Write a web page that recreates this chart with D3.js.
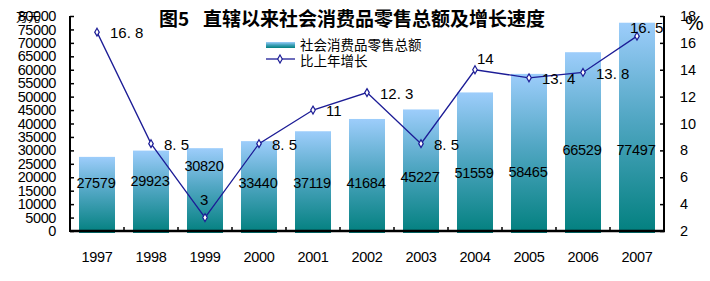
<!DOCTYPE html>
<html>
<head>
<meta charset="utf-8">
<script src="https://cdn.jsdelivr.net/npm/d3@7"></script>
<style>
  body { margin: 0; background: #fff; }
  svg { display: block; }
  text { font-family: "Liberation Sans", Arial, sans-serif; fill: #000; }
  .cjk { font-family: "Noto Sans CJK SC", sans-serif; }
</style>
</head>
<body>
<div id="chart"></div>
<script>
// data
const years = ["1997", "1998", "1999", "2000", "2001", "2002", "2003", "2004", "2005", "2006", "2007"];
const retailSales = [27579, 29923, 30820, 33440, 37119, 41684, 45227, 51559, 58465, 66529, 77497];
const growthRate = [16.8, 8.5, 3, 8.5, 11, 12.3, 8.5, 14, 13.4, 13.8, 16.5];
const leftTicks = d3.range(0, 80001, 5000);
const rightTicks = [2, 4, 6, 8, 10, 12, 14, 16, 18];

const width = 710, height = 281;
const plot = { left: 70, right: 664, top: 16, bottom: 231 };

const svg = d3.select("#chart").append("svg").attr("width", width).attr("height", height);

const x = d3.scaleBand().domain(years).range([plot.left, plot.right]).paddingInner(1 / 3).paddingOuter(1 / 6);
const yL = d3.scaleLinear().domain([0, 80000]).range([plot.bottom, plot.top]);
const yR = d3.scaleLinear().domain([2, 18]).range([plot.bottom, plot.top]);

// bar gradient
let defs = svg.append("defs");
let grad = defs.append("linearGradient").attr("id", "barGrad")
    .attr("x1", 0).attr("y1", 0).attr("x2", 0).attr("y2", 1);
grad.append("stop").attr("offset", "0%").attr("stop-color", "#9dcdfb");
grad.append("stop").attr("offset", "45%").attr("stop-color", "#52a7c4");
grad.append("stop").attr("offset", "100%").attr("stop-color", "#02807f");

let lgGrad = defs.append("linearGradient").attr("id", "legGrad")
    .attr("x1", 0).attr("y1", 0).attr("x2", 0).attr("y2", 1);
lgGrad.append("stop").attr("offset", "0%").attr("stop-color", "#9dcdfb");
lgGrad.append("stop").attr("offset", "50%").attr("stop-color", "#3ea0b8");
lgGrad.append("stop").attr("offset", "100%").attr("stop-color", "#02807f");

// bars
svg.append("g").selectAll("rect").data(retailSales).enter().append("rect")
    .attr("x", (d, i) => x(years[i]))
    .attr("y", d => yL(d))
    .attr("width", x.bandwidth())
    .attr("height", d => yL(0) - yL(d) + 2)
    .attr("fill", "url(#barGrad)");

// bar labels (placed by hand in the original, here in value units)
const labelAt = [17900, 18600, 24200, 17900, 17900, 17900, 20100, 21600, 22000, 30100, 30100];
svg.append("g").selectAll("text").data(retailSales).enter().append("text")
    .attr("x", (d, i) => x(years[i]) + x.bandwidth() / 2 - 1)
    .attr("y", (d, i) => yL(labelAt[i]))
    .attr("dy", "0.35em")
    .attr("text-anchor", "middle")
    .attr("font-size", "14.5px")
    .attr("letter-spacing", "-0.3px")
    .text(d => d);

// axes
let axisL = svg.append("g").attr("transform", `translate(${plot.left},0)`)
    .call(d3.axisRight(yL).tickValues(leftTicks).tickSize(4).tickFormat(""));
let axisR = svg.append("g").attr("transform", `translate(${plot.right},0)`)
    .call(d3.axisLeft(yR).tickValues(rightTicks).tickSize(4).tickFormat(""));
[axisL, axisR].forEach(a => {
    a.select(".domain").remove();
    a.selectAll("line").attr("stroke", "#000").attr("stroke-width", 1.5);
});

svg.append("line").attr("x1", plot.left).attr("x2", plot.left).attr("y1", plot.top).attr("y2", plot.bottom + 1)
    .attr("stroke", "#000").attr("stroke-width", 2);
svg.append("line").attr("x1", plot.right).attr("x2", plot.right).attr("y1", plot.top).attr("y2", plot.bottom + 1)
    .attr("stroke", "#000").attr("stroke-width", 2);
svg.append("line").attr("x1", plot.left).attr("x2", plot.right + 1).attr("y1", plot.bottom).attr("y2", plot.bottom)
    .attr("stroke", "#000").attr("stroke-width", 2.5);

// category separators on x axis
svg.append("g").selectAll("line").data(years.slice(1)).enter().append("line")
    .attr("x1", d => x(d) - x.step() * x.paddingInner() / 2)
    .attr("x2", d => x(d) - x.step() * x.paddingInner() / 2)
    .attr("y1", plot.bottom).attr("y2", plot.bottom - 4)
    .attr("stroke", "#000").attr("stroke-width", 1.5);

// tick labels
svg.append("g").selectAll("text").data(leftTicks).enter().append("text")
    .attr("x", 56).attr("y", d => yL(d)).attr("dy", "0.35em")
    .attr("text-anchor", "end").attr("font-size", "14.5px").attr("letter-spacing", "-0.4px")
    .text(d => d);
// unit label sits on top of the highest tick label, as in the original
svg.append("text").attr("class", "cjk").attr("x", 16).attr("y", 22)
    .attr("font-size", "12px").text("万元");

svg.append("g").selectAll("text").data(rightTicks).enter().append("text")
    .attr("x", 680).attr("y", d => yR(d)).attr("dy", "0.35em")
    .attr("font-size", "14.5px")
    .text(d => d);
svg.append("text").attr("x", 685).attr("y", 30).attr("font-size", "21px").text("%");

svg.append("g").selectAll("text").data(years).enter().append("text")
    .attr("x", d => x(d) + x.bandwidth() / 2).attr("y", 257).attr("dy", "0.35em")
    .attr("text-anchor", "middle").attr("font-size", "14.5px").attr("letter-spacing", "-0.3px")
    .text(d => d);

// growth line
const cx = (d, i) => x(years[i]) + x.bandwidth() / 2;
let line = d3.line().x(cx).y(d => yR(d));
svg.append("path").datum(growthRate).attr("d", line)
    .attr("fill", "none").attr("stroke", "#1c1c96").attr("stroke-width", 1.3);

let diamond = d3.symbol().type(d3.symbolDiamond).size(18);
svg.append("g").selectAll("path").data(growthRate).enter().append("path")
    .attr("d", diamond)
    .attr("transform", (d, i) => `translate(${cx(d, i)},${yR(d)})`)
    .attr("fill", "#fff").attr("stroke", "#1c1c96").attr("stroke-width", 1.2);

// growth labels: most sit right of the point, three sit above it
const above = { "1999": [-5, -18], "2004": [2, -11], "2007": [-7, -8] };
svg.append("g").selectAll("text").data(growthRate).enter().append("text")
    .attr("x", (d, i) => cx(d, i) + (above[years[i]] ? above[years[i]][0] : 13))
    .attr("y", (d, i) => yR(d) + (above[years[i]] ? above[years[i]][1] : 1))
    .attr("dy", "0.35em")
    .attr("font-size", "15px")
    .text(d => String(d).replace(".", ". "));

// title (two pieces so the wide gap after the figure number survives)
let title = svg.append("g");
title.append("text").attr("class", "cjk").attr("x", 159).attr("y", 26)
    .attr("font-size", "19px").attr("font-weight", "bold").text("图5");
title.append("text").attr("class", "cjk").attr("x", 203).attr("y", 26)
    .attr("font-size", "19px").attr("font-weight", "bold").text("直辖以来社会消费品零售总额及增长速度");

// legend
let legend = svg.append("g");
legend.append("rect").attr("x", 266).attr("y", 42).attr("width", 29).attr("height", 6)
    .attr("fill", "url(#legGrad)");
legend.append("text").attr("class", "cjk").attr("x", 300).attr("y", 45.5).attr("dy", "0.35em")
    .attr("font-size", "13.5px").text("社会消费品零售总额");
legend.append("line").attr("x1", 266).attr("x2", 295).attr("y1", 59).attr("y2", 59)
    .attr("stroke", "#1c1c96").attr("stroke-width", 1.3);
legend.append("path").attr("d", diamond).attr("transform", "translate(280,59)")
    .attr("fill", "#fff").attr("stroke", "#1c1c96").attr("stroke-width", 1.2);
legend.append("text").attr("class", "cjk").attr("x", 300).attr("y", 61.5).attr("dy", "0.35em")
    .attr("font-size", "13.5px").text("比上年增长");
</script>
</body>
</html>
